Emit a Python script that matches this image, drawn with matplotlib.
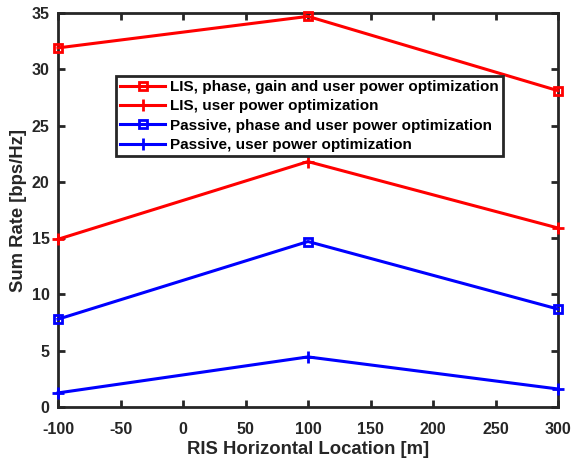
import matplotlib
matplotlib.use("Agg")
import matplotlib.pyplot as plt

x = [-100, 100, 300]
lis_full = [31.9, 34.7, 28.1]
lis_power = [14.9, 21.8, 15.9]
passive_phase = [7.8, 14.7, 8.7]
passive_power = [1.25, 4.45, 1.6]
labels = ["LIS, phase, gain and user power optimization",
          "LIS, user power optimization",
          "Passive, phase and user power optimization",
          "Passive, user power optimization"]
xticks = [-100, -50, 0, 50, 100, 150, 200, 250, 300]
yticks = [0, 5, 10, 15, 20, 25, 30, 35]

plt.rcParams['font.family'] = ['Liberation Sans', 'DejaVu Sans']
plt.rcParams['font.weight'] = 'bold'
plt.rcParams['axes.unicode_minus'] = False

fig = plt.figure(figsize=(5.73, 4.58), dpi=100)
L, R, T, B = 58, 558, 13, 407
ax = fig.add_axes([L/573, 1-B/458, (R-L)/573, (B-T)/458])

kw = dict(lw=2.2, mew=2, clip_on=False, zorder=3)
ax.plot(x, lis_full, color='#ff0000', marker='s', ms=5.5, mfc='none', label=labels[0], **kw)
ax.plot(x, lis_power, color='#ff0000', marker='+', ms=8, label=labels[1], **kw)
ax.plot(x, passive_phase, color='#0000ff', marker='s', ms=5.5, mfc='none', label=labels[2], **kw)
ax.plot(x, passive_power, color='#0000ff', marker='+', ms=8, label=labels[3], **kw)

ax.set_xlim(-100, 300)
ax.set_ylim(0, 35)
ax.set_xticks(xticks)
ax.set_yticks(yticks)
ax.tick_params(direction='in', length=5, width=2, labelsize=11.5, top=True, right=True,
               colors='#262626', labelcolor='#262626')
ax.tick_params(axis='x', pad=10.5)
ax.tick_params(axis='y', pad=6)
for lab in ax.get_xticklabels() + ax.get_yticklabels():
    lab.set_fontweight('bold')
for s in ax.spines.values():
    s.set_linewidth(2)
    s.set_color('#262626')

ax.set_xlabel('RIS Horizontal Location [m]', fontsize=13.3, fontweight='bold', color='#262626', labelpad=3)
ax.set_ylabel('Sum Rate [bps/Hz]', fontsize=13.3, fontweight='bold', color='#262626', labelpad=3.5)

leg = ax.legend(loc='upper left', bbox_to_anchor=((116-L)/(R-L), (B-76)/(B-T)), fontsize=11,
                frameon=True, fancybox=False, edgecolor='#262626', framealpha=1,
                borderpad=0.28, labelspacing=0.34, handlelength=2.95, handletextpad=0.3,
                borderaxespad=0)
leg.get_frame().set_linewidth(2)
for t in leg.get_texts():
    t.set_fontweight('bold')

fig.savefig('out.png', dpi=100)
